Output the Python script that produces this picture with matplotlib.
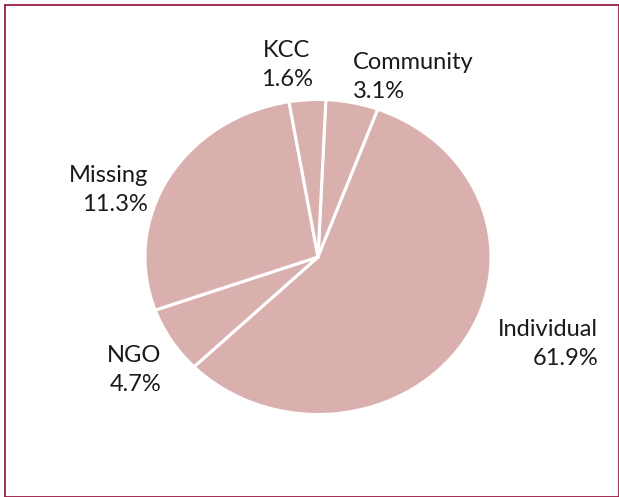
import matplotlib.pyplot as plt
from matplotlib.patches import Rectangle

# slice order as drawn clockwise from the top
groups = ['Community', 'Individual', 'NGO', 'Missing', 'KCC']
slice_sizes = [4.9, 57.1, 6.8, 27.8, 3.4]      # as drawn in the picture
label_pcts = ['3.1%', '61.9%', '4.7%', '11.3%', '1.6%']  # as printed on the chart

W, H = 619, 497
fig = plt.figure(figsize=(W / 100, H / 100), dpi=100)

# pie centre / radii in pixels
cx, cy, rx, ry = 318, 257, 173, 157.5
ax = fig.add_axes([(cx - rx) / W, (H - cy - ry) / H, 2 * rx / W, 2 * ry / H])
ax.pie(slice_sizes, startangle=87.4, counterclock=False,
       colors=['#dab0ae'] * len(slice_sizes),
       wedgeprops=dict(edgecolor='white', linewidth=2.2))
ax.set_aspect('auto')
ax.set_xlim(-1, 1)
ax.set_ylim(-1, 1)

# label anchor (px): x, y of first line, alignment
label_pos = {
    'Community': (353, 62, 'left'),
    'Individual': (598, 329, 'right'),
    'NGO': (161, 355, 'right'),
    'Missing': (148, 175, 'right'),
    'KCC': (287, 50, 'center'),
}
for g, p in zip(groups, label_pcts):
    x, y, ha = label_pos[g]
    fig.text(x / W, 1 - (y + 15) / H, g + '\n' + p, ha=ha, va='center',
             fontsize=17, family='Lato', color='#1a1a1a', linespacing=1.42,
             multialignment=ha)

# thin frame round the figure
fig.patches.append(Rectangle((4.5 / W, 0.5 / H), (W - 5) / W, (H - 5) / H,
                             transform=fig.transFigure, fill=False,
                             edgecolor='#9b1b45', linewidth=1.3))

fig.savefig('out.png', dpi=100)
